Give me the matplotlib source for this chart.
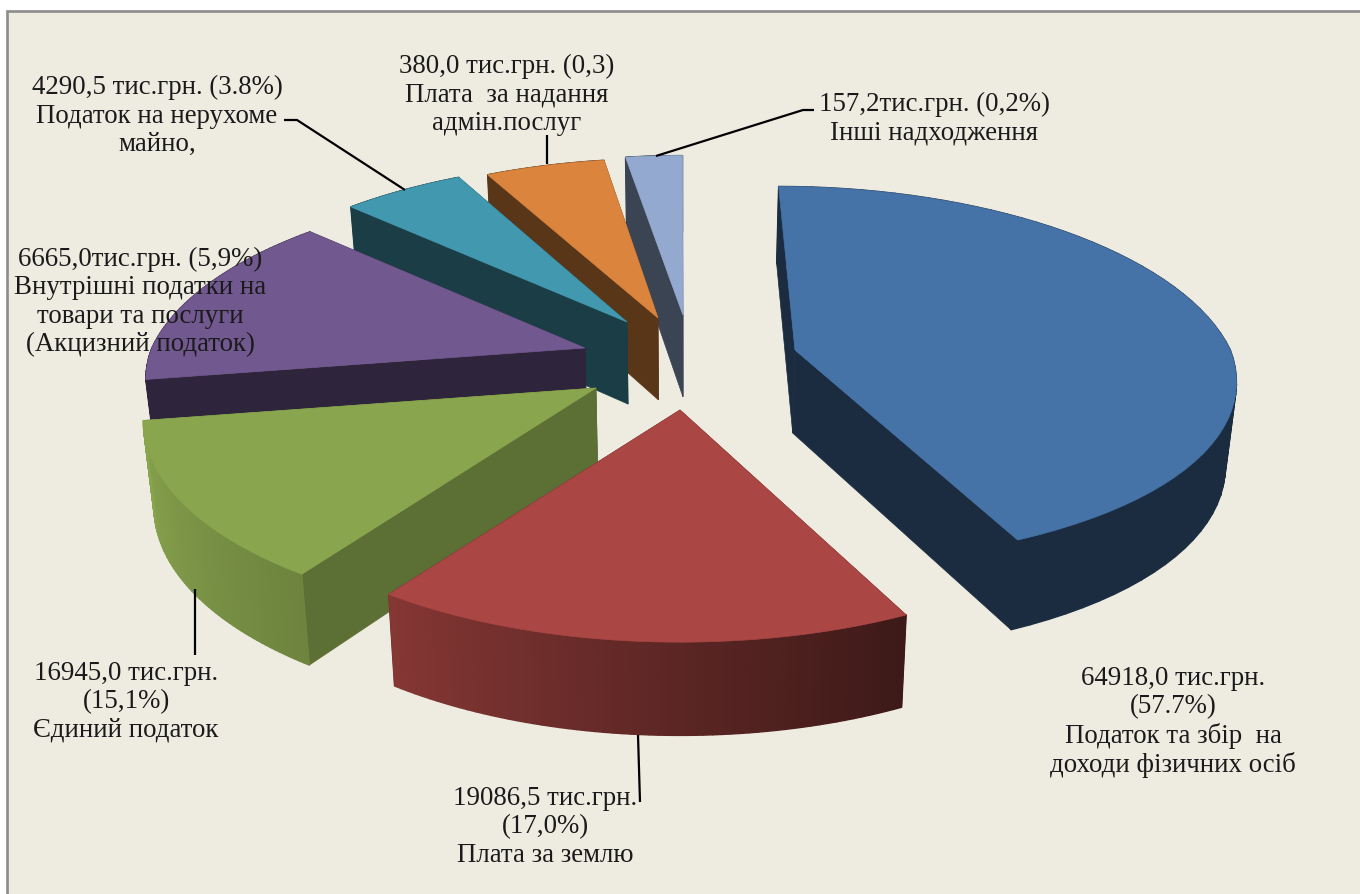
import numpy as np
import matplotlib
matplotlib.use("Agg")
import matplotlib.pyplot as plt
from matplotlib.collections import PolyCollection
from matplotlib.patches import Polygon, Rectangle

# Data: shares as drawn in the picture (percent of the full circle) and printed labels
names = ["Податок та збір на доходи", "Плата за землю", "Єдиний податок", "Акцизний податок",
         "Податок на нерухоме майно", "Плата за адмін.послуги", "Інші надходження"]
drawn_shares = [42.83, 16.8, 12.78, 14.53, 5.3, 5.25, 2.5]
labels = [
    "64918,0 тис.грн.\n(57.7%)\nПодаток та збір  на\nдоходи фізичних осіб",
    "19086,5 тис.грн.\n(17,0%)\nПлата за землю",
    "16945,0 тис.грн.\n(15,1%)\nЄдиний податок",
    "6665,0тис.грн. (5,9%)\nВнутрішні податки на\nтовари та послуги\n(Акцизний податок)",
    "4290,5 тис.грн. (3.8%)\nПодаток на нерухоме\nмайно,",
    "380,0 тис.грн. (0,3)\nПлата  за надання\nадмін.послуг",
    "157,2тис.грн. (0,2%)\nІнші надходження",
]
label_x = [1173, 545, 126, 140, 157, 507, 934]
label_y = [722, 827, 702, 302, 116, 95, 119]
explode_x = [115, 0, -84, -95, -53, -22, 3]
explode_y = [0, 60, 38, -2, -28, -32, -35]
radius_scale = [0.985, 1.0, 1.01, 0.98, 0.97, 0.96, 0.96]
front_yscale = [0.935, 1, 1, 1, 1, 1, 1]
colors = ["#4572a7", "#aa4643", "#89a54e", "#71588f", "#4198af", "#db843d", "#93a9cf"]
radial_shade = [0.39, 0.40, 0.67, 0.41, 0.40, 0.41, 0.40]
outer_shade = [(0.39, 0.39), (0.36, 0.78), (0.80, 1.0), (0.41, 0.41), (0.40, 0.40), (0.41, 0.41), (0.40, 0.40)]
draw_order = [6, 5, 4, 3, 2, 1, 0]
leaders = [
    ([638, 640], [735, 802]),
    ([195, 195], [589, 655]),
    ([284, 297, 405], [120, 120, 190]),
    ([547, 547], [135, 164]),
    ([814, 803, 656], [110, 110, 156]),
]

CX, CY = 680, 350
RX, KR, P = 442, 193.6, 0.166
START = 90.0

def rim(i, ax0, ay0, ang):
    t = np.radians(ang)
    u, v = np.cos(t), np.sin(t)
    s = 1 / (1 + P * v)
    r = radius_scale[i]
    back = v > 0
    x = np.where(back, CX + (ax0 - CX + RX * r * u) * s, ax0 + RX * r * u * s)
    fy = np.where(back, 1.0, 1 - (1 - front_yscale[i]) * np.abs(v))
    y = ay0 - KR * r * v * s * fy
    return x, y

def drop(x, y):
    x, y = np.asarray(x, float), np.asarray(y, float)
    return CX + (x - CX) * 0.98, y + 82 + 0.035 * (y - 320)

def darker(c, f):
    return tuple(min(1, k * f) for k in matplotlib.colors.to_rgb(c))

fig = plt.figure(figsize=(13.6, 8.94), dpi=100, facecolor="white")
ax = fig.add_axes([0, 0, 1, 1])
ax.set_xlim(0, 1360)
ax.set_ylim(894, 0)
ax.axis("off")
ax.add_patch(Rectangle((6.5, 11), 1360, 890, facecolor="#eeece1", edgecolor="none", zorder=0))
ax.plot([6.5, 6.5, 1360], [894, 11, 11], color="#8c8c8c", lw=1.9, zorder=0.5, solid_joinstyle="miter")

sweeps = np.array(drawn_shares) / sum(drawn_shares) * 360
ends = START - np.cumsum(sweeps)
starts = ends + sweeps

z = 1
for i in draw_order:
    a0, a1 = starts[i], ends[i]
    ax0, ay0 = CX + explode_x[i], CY + explode_y[i]
    angs = np.linspace(a0, a1, 61)
    rx, ry = rim(i, ax0, ay0, angs)
    bx, by = drop(rx, ry)
    apx, apy = drop(ax0, ay0)
    wall = darker(colors[i], radial_shade[i])
    for j in (0, -1):
        ax.add_patch(Polygon([(ax0, ay0), (rx[j], ry[j]), (bx[j], by[j]), (apx, apy)],
                             closed=True, fc=wall, ec=wall, lw=0.5, zorder=z))
    quads, cols = [], []
    f0, f1 = outer_shade[i]
    for k in range(len(angs) - 1):
        quads.append([(rx[k], ry[k]), (rx[k + 1], ry[k + 1]), (bx[k + 1], by[k + 1]), (bx[k], by[k])])
        cols.append(darker(colors[i], f0 + (f1 - f0) * k / (len(angs) - 2)))
    ax.add_collection(PolyCollection(quads, facecolors=cols, edgecolors=cols, linewidths=1.0, zorder=z))
    ax.add_patch(Polygon(np.column_stack([np.r_[ax0, rx], np.r_[ay0, ry]]), closed=True,
                         fc=colors[i], ec=colors[i], lw=0.5, zorder=z + 0.5))
    z += 1

for lx, ly in leaders:
    ax.plot(lx, ly, color="black", lw=1.6, zorder=20, solid_capstyle="butt")

for txt, x, y in zip(labels, label_x, label_y):
    ax.text(x, y, txt, ha="center", va="center", multialignment="center",
            family="Liberation Serif", fontsize=19.4, color="#1a1a1a", linespacing=1.17, zorder=30)

fig.savefig("out.png", dpi=100, facecolor="white")
